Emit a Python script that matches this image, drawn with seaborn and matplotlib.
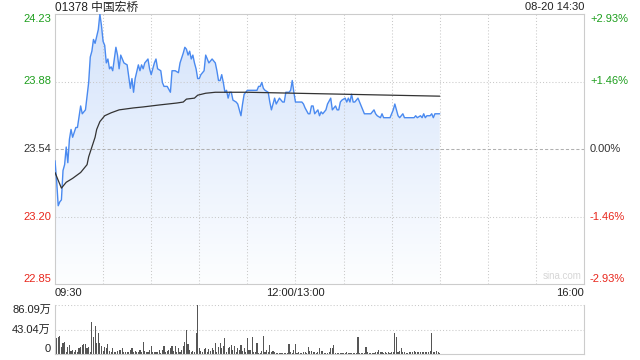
import numpy as np
import pandas as pd
import matplotlib
matplotlib.use("Agg")
import matplotlib.pyplot as plt
import seaborn as sns
from matplotlib.colors import LinearSegmentedColormap
from matplotlib.transforms import blended_transform_factory

sns.set_theme(style="white")
plt.rcParams["font.family"] = ["Liberation Sans", "Noto Sans CJK SC", "DejaVu Sans"]

# ---------------- data ----------------
title = "01378 中国宏桥"
stamp = "08-20 14:30"
y_min, y_max = 22.85, 24.23
price_tick_labels = ["22.85", "23.20", "23.54", "23.88", "24.23"]
pct_labels = ["-2.93%", "-1.46%", "0.00%", "+1.46%", "+2.93%"]
label_colors = ["#e8261c", "#e8261c", "#333333", "#1d9e1d", "#1d9e1d"]
time_labels = ["09:30", "12:00/13:00", "16:00"]
time_label_minutes = [0, 150, 330]
session_minutes = 330
vol_max = 86.09
vol_labels = ["0", "43.04万", "86.09万"]

price_minutes = [0, 1, 2, 3, 4, 5, 6, 7, 8, 9, 10, 11, 13, 14, 16, 17, 19, 20, 21, 22,
                 23, 24, 25, 27, 28, 29, 30, 31, 32, 33, 34, 35, 36, 38, 39, 40, 41, 43, 45, 46,
                 47, 48, 49, 50, 52, 53, 54, 55, 56, 58, 59, 60, 61, 62, 63, 64, 66, 67, 68, 70,
                 72, 73, 75, 77, 78, 80, 81, 82, 83, 84, 85, 86, 87, 88, 89, 90, 91, 93, 94, 95,
                 96, 98, 99, 100, 101, 102, 103, 104, 105, 106, 107, 108, 109, 110, 111, 113, 114, 116, 117, 118,
                 119, 120, 121, 124, 126, 127, 128, 129, 130, 131, 133, 134, 135, 136, 137, 138, 140, 141, 142, 143,
                 144, 145, 146, 147, 148, 149, 150, 152, 154, 155, 156, 158, 159, 160, 161, 162, 164, 165, 166, 167,
                 169, 170, 172, 173, 174, 175, 176, 177, 178, 179, 181, 182, 183, 184, 185, 186, 187, 188, 189, 190,
                 192, 193, 195, 197, 199, 200, 201, 203, 204, 205, 207, 209, 210, 211, 212, 213, 214, 215, 216, 217,
                 218, 220, 222, 224, 225, 226, 228, 229, 230, 231, 232, 234, 235, 236, 237, 239, 240]
prices = [23.48, 23.38, 23.25, 23.27, 23.28, 23.43, 23.46, 23.55, 23.47, 23.59, 23.64, 23.60, 23.65, 23.65, 23.76, 23.72, 23.74, 23.81, 23.88, 24.01,
          24.04, 24.10, 24.08, 24.15, 24.23, 24.17, 24.09, 24.07, 23.98, 24.00, 23.95, 23.96, 23.94, 24.06, 24.02, 23.95, 24.02, 23.98, 23.97, 23.91,
          23.85, 23.90, 23.83, 23.90, 23.97, 23.94, 23.97, 23.95, 23.98, 24.00, 23.95, 23.92, 23.95, 23.98, 24.00, 23.95, 23.94, 23.88, 23.86, 23.86,
          23.83, 23.94, 23.94, 23.93, 23.98, 24.03, 24.06, 24.05, 24.02, 24.04, 24.00, 24.02, 23.98, 23.95, 23.90, 23.90, 23.92, 23.94, 24.02, 24.00,
          23.98, 24.00, 23.99, 23.98, 23.94, 23.89, 23.89, 23.92, 23.88, 23.83, 23.84, 23.80, 23.83, 23.83, 23.79, 23.78, 23.77, 23.71, 23.77, 23.82,
          23.83, 23.84, 23.84, 23.84, 23.84, 23.86, 23.86, 23.88, 23.85, 23.84, 23.83, 23.78, 23.74, 23.77, 23.80, 23.77, 23.80, 23.79, 23.78, 23.78,
          23.83, 23.83, 23.83, 23.84, 23.89, 23.83, 23.78, 23.78, 23.78, 23.77, 23.75, 23.72, 23.72, 23.76, 23.76, 23.72, 23.74, 23.71, 23.73, 23.72,
          23.74, 23.77, 23.80, 23.74, 23.75, 23.76, 23.74, 23.74, 23.78, 23.79, 23.80, 23.78, 23.80, 23.78, 23.82, 23.78, 23.78, 23.79, 23.80, 23.78,
          23.74, 23.72, 23.72, 23.72, 23.74, 23.72, 23.71, 23.70, 23.72, 23.70, 23.70, 23.70, 23.72, 23.74, 23.77, 23.74, 23.71, 23.70, 23.71, 23.72,
          23.70, 23.70, 23.70, 23.70, 23.71, 23.70, 23.71, 23.70, 23.72, 23.70, 23.71, 23.71, 23.72, 23.70, 23.72, 23.72, 23.72]

avg_minutes = [0, 4, 7, 11, 16, 20, 21, 23, 25, 26, 28, 31, 35, 40, 49, 55, 65, 76, 80, 82,
               87, 89, 94, 100, 109, 120, 150, 180, 210, 240]
avg_prices = [23.42, 23.34, 23.37, 23.39, 23.42, 23.46, 23.50, 23.55, 23.60, 23.64, 23.68, 23.71, 23.725, 23.74, 23.75, 23.755, 23.765, 23.775, 23.78, 23.795,
              23.80, 23.815, 23.825, 23.83, 23.83, 23.83, 23.825, 23.82, 23.815, 23.81]

volumes = [63.8, 27.5, 29.3, 31.6, 12.9, 19.9, 21.7, 3, 11.7, 15.8,
           5.9, 7, 4.1, 7, 3, 10, 12.9, 15.8, 17.6, 17.6,
           10, 12.9, 4, 56.8, 30.5, 49.2, 18.7, 36.3, 18.7, 14,
           5, 12.9, 10, 17, 5.9, 4.1, 11.1, 4.1, 3, 5.9,
           7, 7, 10, 4.1, 2.9, 4.1, 3, 7, 11.1, 4.1,
           5.9, 4.1, 2.9, 7, 4, 21.7, 5.9, 4.1, 2.9, 7,
           14, 2.9, 3, 4.1, 4.1, 7, 2.3, 7, 14, 4.1,
           5, 7, 10, 14, 5.9, 14, 2.9, 10, 4, 7,
           14, 20.5, 42.2, 17, 7, 3, 5.9, 4.1, 37.5, 86.09,
           10, 5.9, 4.1, 8.2, 10, 3, 8.2, 5.9, 10, 7,
           18.7, 4, 12.9, 18.7, 10, 14, 27.5, 3, 10, 12.9,
           15.8, 7, 14, 4, 10, 7, 15.8, 5.9, 10, 3,
           27.5, 7,
           7, 30.5, 4.1, 2.9, 19.9, 2,
           2.3, 5.3, 31.6, 4.1, 7, 3,
           15.8, 4.1, 5.3, 2.9, 2.3, 2,
           1.8, 1.2, 1.8, 1.2, 1.8, 1.5,
           17.6, 2.9, 1.8, 7, 17.6, 2,
           4.1, 1.8, 1.8, 2.9, 4.1, 2,
           12.9, 5.9, 5.9, 4.1, 2.9, 2,
           2.9, 10, 5.9, 5.3, 1.2, 1.5,
           1.8, 2.9, 10, 11.1, 15.8, 2,
           2.3, 1.8, 1.8, 2.3, 2.3, 2,
           2.9, 1.8, 1.8, 2.3, 1.8, 1.5,
           1.8, 30.5, 2.3, 1.8, 2.3, 2,
           12.9, 3, 2.3, 1.8, 2.3, 2,
           2.9, 4.1, 7, 4.1, 2.9, 2.5,
           3.5, 2.3, 3.5, 2.3, 3.5, 3,
           37.5, 30.5, 4.1, 5.9, 10, 3,
           2.9, 2.3, 2.3, 2.9, 4.1, 3,
           4.7, 2.9, 3.5, 4.1, 2.9, 3,
           3.5, 2.9, 3.5, 4.1, 5.9, 37.5, 4.1, 2.9, 5.9, 2.9, 2]

price_df = pd.DataFrame({"minute": price_minutes, "price": prices})
avg_df = pd.DataFrame({"minute": avg_minutes, "avg": avg_prices})
vol_df = pd.DataFrame({"minute": np.arange(len(volumes)), "vol": volumes})

# ---------------- figure ----------------
W, H = 640, 360
fig = plt.figure(figsize=(6.4, 3.6), dpi=100)
fig.patch.set_facecolor("white")
ax = fig.add_axes([55 / W, 76 / H, 529 / W, 270 / H])
axv = fig.add_axes([55 / W, 6 / H, 529 / W, 49 / H])

grid_col = "#c9c9c9"
spine_col = "#cccccc"
dot = (0, (1, 2))

# gradient fill under price line
poly = ax.fill_between(price_df["minute"], price_df["price"], y_min,
                       facecolor="none", edgecolor="none")
cmap = LinearSegmentedColormap.from_list("g", ["#fdfeff", "#d4e3fb"])
grad = np.linspace(0, 1, 256).reshape(-1, 1)
im = ax.imshow(grad, extent=[0, session_minutes, y_min, y_max], origin="lower",
               aspect="auto", cmap=cmap, zorder=1, interpolation="bicubic")
im.set_clip_path(poly.get_paths()[0], transform=ax.transData)

sns.lineplot(data=price_df, x="minute", y="price", ax=ax, color="#4a8af0",
             linewidth=1.0, zorder=4, estimator=None)
sns.lineplot(data=avg_df, x="minute", y="avg", ax=ax, color="#333333",
             linewidth=0.9, zorder=5, estimator=None)

ax.set_xlim(0, session_minutes)
ax.set_ylim(y_min, y_max)
ticks = np.linspace(y_min, y_max, 5)
for m in range(30, session_minutes, 30):
    ax.axvline(m, color=grid_col, linestyle=dot, linewidth=0.75, zorder=2)
for i, v in enumerate(ticks[1:-1], start=1):
    if i == 2:
        ax.axhline(v, color="#b0b0b0", linestyle=(0, (3, 2)), linewidth=0.75, zorder=2)
    else:
        ax.axhline(v, color=grid_col, linestyle=dot, linewidth=0.75, zorder=2)

ax.set_xticks([])
ax.set_yticks([])
ax.set_xlabel("")
ax.set_ylabel("")
for s in ax.spines.values():
    s.set_color(spine_col)
    s.set_linewidth(0.8)

tr = blended_transform_factory(ax.transAxes, ax.transData)
for i, v in enumerate(ticks):
    va = "bottom" if i == 0 else ("top" if i == len(ticks) - 1 else "center")
    ax.text(-0.0076, v, price_tick_labels[i], transform=tr, ha="right", va=va,
            fontsize=8, color=label_colors[i])
    ax.text(1.0113, v, pct_labels[i], transform=tr, ha="left", va=va,
            fontsize=8, color=label_colors[i])

trx = blended_transform_factory(ax.transData, ax.transAxes)
for lab, m in zip(time_labels, time_label_minutes):
    ha = "left" if m == 0 else ("right" if m == session_minutes else "center")
    ax.text(m, -0.016, lab, transform=trx, ha=ha, va="top", fontsize=8, color="#222222")

ax.text(0.995, 0.012, "sina.com", transform=ax.transAxes, ha="right", va="bottom",
        fontsize=7, color="#d6d6d6")

fig.text(55 / W, 1 - 7.5 / H, title, ha="left", va="center", fontsize=8.5, color="#222222")
fig.text(584 / W, 1 - 7.5 / H, stamp, ha="right", va="center", fontsize=8, color="#222222")

# ---------------- volume ----------------
sns.barplot(data=vol_df, x="minute", y="vol", ax=axv, native_scale=True,
            color="#555555", saturation=1, width=0.7, errorbar=None, linewidth=0)
axv.set_xlim(0, session_minutes)
axv.set_ylim(0, vol_max)
axv.axhline(vol_max, color=grid_col, linestyle=dot, linewidth=0.75, zorder=0)
axv.axhline(vol_max / 2, color=grid_col, linestyle=dot, linewidth=0.75, zorder=0)
axv.set_xticks([])
axv.set_yticks([])
axv.set_xlabel("")
axv.set_ylabel("")
for k, s in axv.spines.items():
    s.set_color(spine_col)
    s.set_linewidth(0.8)
axv.spines["top"].set_visible(False)
trv = blended_transform_factory(axv.transAxes, axv.transData)
for lab, v, va in zip(vol_labels, [0, vol_max / 2, vol_max], ["bottom", "center", "top"]):
    axv.text(-0.0076, v, lab, transform=trv, ha="right", va=va, fontsize=8, color="#222222")

fig.savefig("out.png", dpi=100, facecolor="white")
